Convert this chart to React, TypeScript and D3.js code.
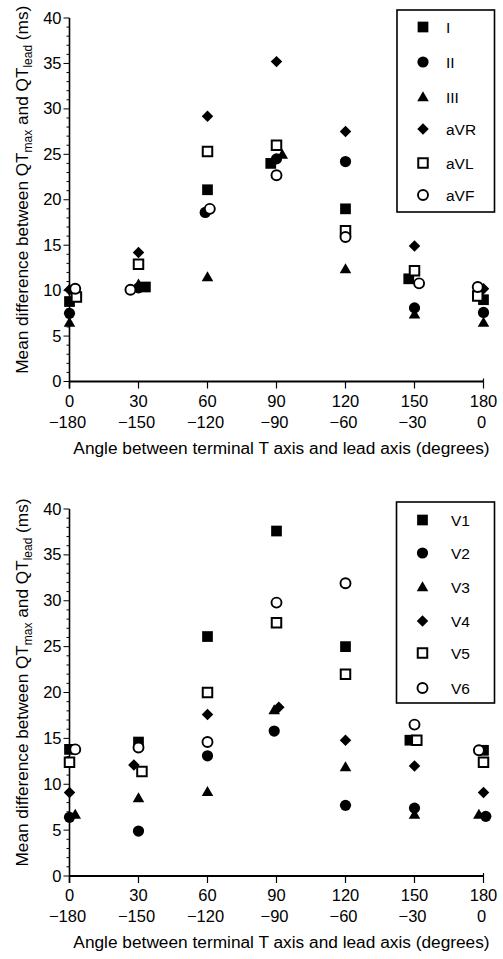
import React from "react";
import * as d3 from "d3";

// ---------- data ----------
const angleTicks = [0, 30, 60, 90, 120, 150, 180];
const angleTicks2 = ["\u2212180", "\u2212150", "\u2212120", "\u221290", "\u221260", "\u221230", "0"];
const yTicks = [0, 5, 10, 15, 20, 25, 30, 35, 40];

const topLeads = ["I", "II", "III", "aVR", "aVL", "aVF"];
const topX = [
  [0, 33, 60, 87.5, 120, 147.5, 180],
  [0, 30, 59, 90, 120, 150, 180],
  [0, 30, 60, 92.5, 120, 150, 180],
  [0, 30, 60, 90, 120, 150, 180],
  [3, 30, 60, 90, 120, 150, 177.5],
  [2.5, 26.5, 61, 90, 120, 152, 177.5],
];
const topY = [
  [8.8, 10.4, 21.1, 24.0, 19.0, 11.3, 9.0],
  [7.5, 10.3, 18.6, 24.5, 24.2, 8.1, 7.6],
  [6.5, 10.7, 11.5, 25.0, 12.4, 7.4, 6.5],
  [10.1, 14.2, 29.2, 35.2, 27.5, 14.9, 10.2],
  [9.3, 12.9, 25.3, 26.0, 16.6, 12.2, 9.4],
  [10.2, 10.1, 19.0, 22.7, 15.9, 10.8, 10.4],
];

const botLeads = ["V1", "V2", "V3", "V4", "V5", "V6"];
const botX = [
  [0, 30, 60, 90, 120, 148, 180],
  [0, 30, 60, 89, 120, 150, 181],
  [2.5, 30, 60, 89, 120, 150, 178],
  [0, 28, 60, 91, 120, 150, 180],
  [0, 31.5, 60, 90, 120, 151, 180],
  [2.5, 30, 60, 90, 120, 150, 178],
];
const botY = [
  [13.8, 14.6, 26.1, 37.6, 25.0, 14.8, 13.7],
  [6.4, 4.9, 13.1, 15.8, 7.7, 7.4, 6.5],
  [6.7, 8.5, 9.2, 18.1, 11.9, 6.7, 6.7],
  [9.1, 12.1, 17.6, 18.4, 14.8, 12.0, 9.1],
  [12.4, 11.4, 20.0, 27.6, 22.0, 14.8, 12.4],
  [13.8, 14.0, 14.6, 29.8, 31.9, 16.5, 13.7],
];

const shapes = ["fsquare", "fcircle", "ftriangle", "fdiamond", "osquare", "ocircle"];

const FONT = "'Liberation Sans', Arial, Helvetica, sans-serif";

function Marker({ shape, x, y }: { shape: string; x: number; y: number }) {
  const sq = d3.symbol().type(d3.symbolSquare);
  const tri = d3.symbol().type(d3.symbolTriangle).size(58)();
  const t = `translate(${x},${y})`;
  switch (shape) {
    case "fsquare":
      return <path d={sq.size(115)() as string} transform={t} fill="#000" />;
    case "fcircle":
      return <circle cx={x} cy={y} r={5.6} fill="#000" />;
    case "ftriangle":
      return <path d={tri as string} transform={`translate(${x},${y + 1})`} fill="#000" />;
    case "fdiamond":
      return <path d={sq.size(66)() as string} transform={`${t} rotate(45)`} fill="#000" />;
    case "osquare":
      return <path d={sq.size(90)() as string} transform={t} fill="#fff" stroke="#000" strokeWidth={2} />;
    case "ocircle":
      return <circle cx={x} cy={y} r={5} fill="#fff" stroke="#000" strokeWidth={1.9} />;
  }
  return null;
}

function Panel({
  top,
  bottom,
  leads,
  xs,
  ys,
  legend,
}: {
  top: number;
  bottom: number;
  leads: string[];
  xs: number[][];
  ys: number[][];
  legend: { x0: number; x1: number; y0: number; y1: number; items: number[]; lx: number };
}) {
  const x = d3.scaleLinear().domain([0, 180]).range([69.5, 483.5]);
  const y = d3.scaleLinear().domain([0, 40]).range([bottom, top]);
  const minor = d3.range(0, 41, 1);
  return (
    <g fontFamily={FONT} fill="#000">
      {/* y axis */}
      <line x1={x(0)} x2={x(0)} y1={y(40)} y2={y(0) + 7} stroke="#000" strokeWidth={1.6} />
      {minor.map((v) => (
        <line
          key={"m" + v}
          x1={x(0) - (v % 5 === 0 ? 6 : 3)}
          x2={x(0)}
          y1={y(v)}
          y2={y(v)}
          stroke="#000"
          strokeWidth={1}
        />
      ))}
      {yTicks.map((v) => (
        <text key={"yl" + v} x={x(0) - 8} y={y(v) + 5.5} fontSize={16.5} textAnchor="end">
          {v}
        </text>
      ))}
      {/* x axis */}
      <line x1={x(0)} x2={x(180)} y1={y(0)} y2={y(0)} stroke="#000" strokeWidth={1.8} />
      {angleTicks.map((v, i) => (
        <g key={"xt" + v}>
          <line x1={x(v)} x2={x(v)} y1={y(0)} y2={y(0) + 7} stroke="#000" strokeWidth={1.2} />
          <text x={x(v)} y={y(0) + 25} fontSize={16.5} textAnchor="middle">
            {v}
          </text>
          <text x={x(v) - 2} y={y(0) + 46} fontSize={16.5} textAnchor="middle">
            {angleTicks2[i]}
          </text>
        </g>
      ))}
      <line x1={x(180)} x2={x(180)} y1={y(0) - 3} y2={y(0)} stroke="#000" strokeWidth={1.2} />
      <text x={281.5} y={y(0) + 72} fontSize={17.3} textAnchor="middle">
        Angle between terminal T axis and lead axis (degrees)
      </text>
      <text
        transform={`translate(27.5,${(y(0) + y(40)) / 2 - 10}) rotate(-90)`}
        fontSize={17.2}
        textAnchor="middle"
      >
        Mean difference between QT
        <tspan fontSize={12} dy={4}>max</tspan>
        <tspan dy={-4}> and QT</tspan>
        <tspan fontSize={12} dy={4}>lead</tspan>
        <tspan dy={-4}> (ms)</tspan>
      </text>
      {/* points */}
      {leads.map((_, si) => (
        <g key={"s" + si}>
          {ys[si].map((v, j) => (
            <Marker key={j} shape={shapes[si]} x={x(xs[si][j])} y={y(v)} />
          ))}
        </g>
      ))}
      {/* legend */}
      <rect
        x={legend.x0}
        y={legend.y0}
        width={legend.x1 - legend.x0}
        height={legend.y1 - legend.y0}
        fill="#fff"
        stroke="#000"
        strokeWidth={1.6}
      />
      {leads.map((name, i) => (
        <g key={"lg" + i}>
          <Marker shape={shapes[i]} x={legend.x0 + 26} y={legend.items[i]} />
          <text x={legend.lx} y={legend.items[i] + 5.5} fontSize={15.5}>
            {name}
          </text>
        </g>
      ))}
    </g>
  );
}

export default function App() {
  return (
    <svg
      width={503}
      height={959}
      style={{ position: "absolute", left: 0, top: 0, background: "#fff" }}
    >
      <rect width={503} height={959} fill="#fff" />
      <Panel
        top={18}
        bottom={381.5}
        leads={topLeads}
        xs={topX}
        ys={topY}
        legend={{ x0: 397, x1: 494.5, y0: 10, y1: 212, items: [27, 62, 97, 129, 163, 195], lx: 446 }}
      />
      <Panel
        top={509}
        bottom={876}
        leads={botLeads}
        xs={botX}
        ys={botY}
        legend={{ x0: 396.5, x1: 494.5, y0: 502, y1: 703, items: [520, 553, 587, 621, 653, 688], lx: 451 }}
      />
    </svg>
  );
}
